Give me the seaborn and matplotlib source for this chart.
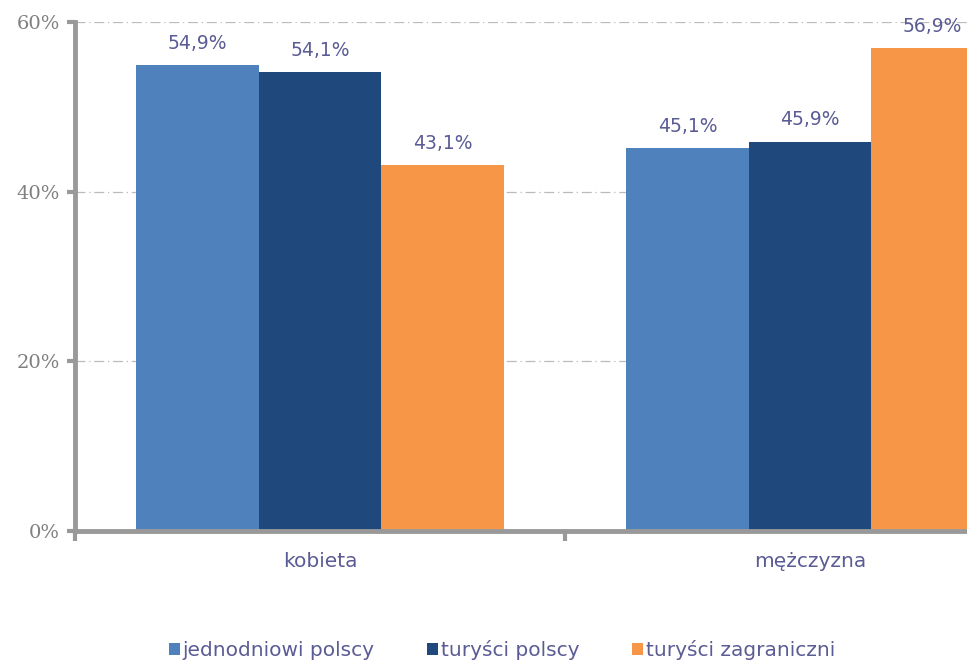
import pandas as pd
import matplotlib.pyplot as plt
import seaborn as sns

categories = ["kobieta", "mężczyzna"]
series = ["jednodniowi polscy", "turyści polscy", "turyści zagraniczni"]
values = {
    "jednodniowi polscy": [54.9, 45.1],
    "turyści polscy": [54.1, 45.9],
    "turyści zagraniczni": [43.1, 56.9],
}
colors = ["#4F81BD", "#1F497D", "#F79646"]
yticks = [0, 20, 40, 60]

rows = []
for s in series:
    for c, v in zip(categories, values[s]):
        rows.append({"plec": c, "grupa": s, "udzial": v})
df = pd.DataFrame(rows)

sns.set_style("white")
plt.rcParams['font.family'] = ['DejaVu Sans']

fig = plt.figure(figsize=(9.67, 6.63), dpi=100)
ax = fig.add_axes([75 / 967, 1 - 531 / 663, 980 / 967, 509 / 663])

sns.barplot(data=df, x="plec", y="udzial", hue="grupa", palette=colors,
            width=0.75, gap=0, saturation=1, linewidth=0, ax=ax, legend=True)

text_col = "#5B5B95"
gray = "#999999"

for cont in ax.containers:
    labels = [f"{v:.1f}%".replace(".", ",") for v in cont.datavalues]
    ax.bar_label(cont, labels=labels, padding=9, color=text_col, fontsize=13.5)

ax.set_xlim(-0.5, 1.5)
ax.set_ylim(0, 60)
ax.set_yticks(yticks)
ax.set_yticklabels([f"{t}%" for t in yticks], color="#808080", fontsize=14,
                   family="DejaVu Serif")
ax.yaxis.grid(True, linestyle=(0, (8, 3, 1, 3)), color="#BBBBBB", linewidth=0.9)
ax.set_axisbelow(True)

ax.set_xticks([0, 1])
ax.set_xticklabels(categories, color=text_col, fontsize=14.5)
ax.tick_params(axis="x", which="major", length=0, pad=15, bottom=True)
ax.set_xticks([-0.5, 0.5], minor=True)
ax.tick_params(axis="x", which="minor", length=7, width=3, color=gray,
               direction="out", bottom=True)
ax.tick_params(axis="y", length=6, width=3, color=gray, direction="out", left=True, pad=5)

ax.set_xlabel("")
ax.set_ylabel("")
for side in ["top", "right"]:
    ax.spines[side].set_visible(False)
for side in ["left", "bottom"]:
    ax.spines[side].set_color(gray)
    ax.spines[side].set_linewidth(3.5)

leg = ax.legend(loc="lower center", bbox_to_anchor=(502 / 980 - 75 / 980, -0.29),
                ncol=3, frameon=False, fontsize=14.5, handlelength=0.55, handleheight=0.55,
                handletextpad=0.15, columnspacing=2.6, bbox_transform=ax.transAxes)
for t in leg.get_texts():
    t.set_color(text_col)

fig.savefig("out.png", dpi=100)
